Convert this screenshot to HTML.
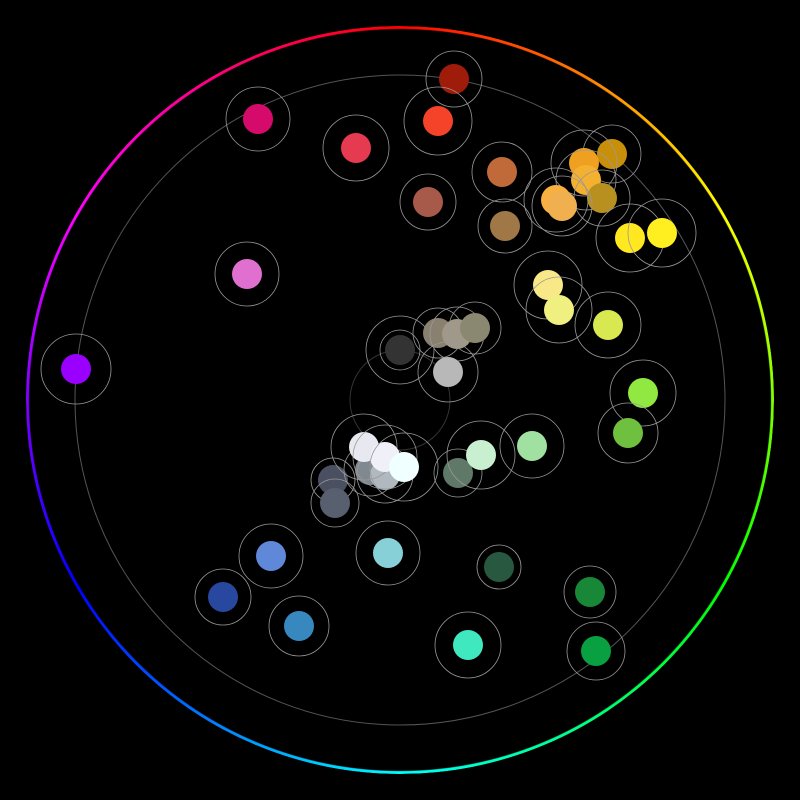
<!DOCTYPE html>
<html><head><style>
html,body{margin:0;padding:0;background:#000;width:800px;height:800px;overflow:hidden}
.ring{position:absolute;left:26px;top:26px;width:748px;height:748px;border-radius:50%;
background:conic-gradient(from 0deg,#f00,#ff8000,#ff0,#80ff00,#0f0,#00ff80,#0ff,#0080ff,#00f,#8000ff,#f0f,#ff0080,#f00);
-webkit-mask:radial-gradient(circle,transparent 370.5px,#000 371.5px);mask:radial-gradient(circle,transparent 370.5px,#000 371.5px)}
svg{position:absolute;left:0;top:0}
</style></head><body>
<div class="ring"></div>
<svg width="800" height="800" viewBox="0 0 800 800">
<circle cx="400" cy="400" r="325" fill="none" stroke="#555" stroke-width="1"/>
<circle cx="400" cy="400" r="50" fill="none" stroke="#333" stroke-width="1"/>
<g id="d"></g>
</svg>
<script>
const D=[
[454,79,'#a01c0a',28],[258,119,'#d60a6a',32],[438,121,'#f5432a',34],[356,148,'#e63a50',33],
[502,172,'#c06a3a',30],[428,202,'#a85a4a',28],[612,154,'#c8900a',29],[584,163,'#f0a020',33],
[586,180,'#f4b030',30],[602,198,'#b89020',28],[556,200,'#f8b040',32],[562,206,'#f0b050',30],
[505,226,'#a07848',27],[630,238,'#ffe820',34],[662,233,'#ffee20',34],[247,274,'#e070d0',32],
[76,369,'#9900ff',35],[548,285,'#f8e888',34],[559,310,'#f0f080',33],[608,325,'#d8e850',33],
[400,350,'#333333',34],[438,333,'#8a8070',25],[457,334,'#a09888',27],[475,328,'#8a8870',26],
[448,372,'#b8b8b8',30],[643,393,'#90e840',33],[628,433,'#70c040',30],[333,480,'#4a5060',22],
[335,503,'#586070',24],[370,470,'#808890',26],[385,475,'#b0b8c0',28],[364,447,'#e8e8f0',33],
[385,457,'#f0f0f8',32],[404,467,'#f0ffff',34],[458,473,'#607868',24],[481,455,'#c8f0d0',34],
[532,446,'#a0e0a0',32],[271,556,'#6088d8',32],[388,553,'#88d0d8',32],[223,597,'#2848a0',28],
[299,626,'#3888c0',30],[499,567,'#285840',22],[590,592,'#188838',26],[468,645,'#40e8c0',33],
[596,651,'#08a040',29]];
let s='';
for(const [x,y,c,r] of D){s+=`<circle cx="${x}" cy="${y}" r="15" fill="${c}"/><circle cx="${x}" cy="${y}" r="${r}" fill="none" stroke="#999" stroke-width="0.8"/>`;}
s+='<circle cx="400" cy="350" r="20" fill="none" stroke="#999" stroke-width="0.8"/>';
document.getElementById('d').innerHTML=s;
</script>
</body></html>
